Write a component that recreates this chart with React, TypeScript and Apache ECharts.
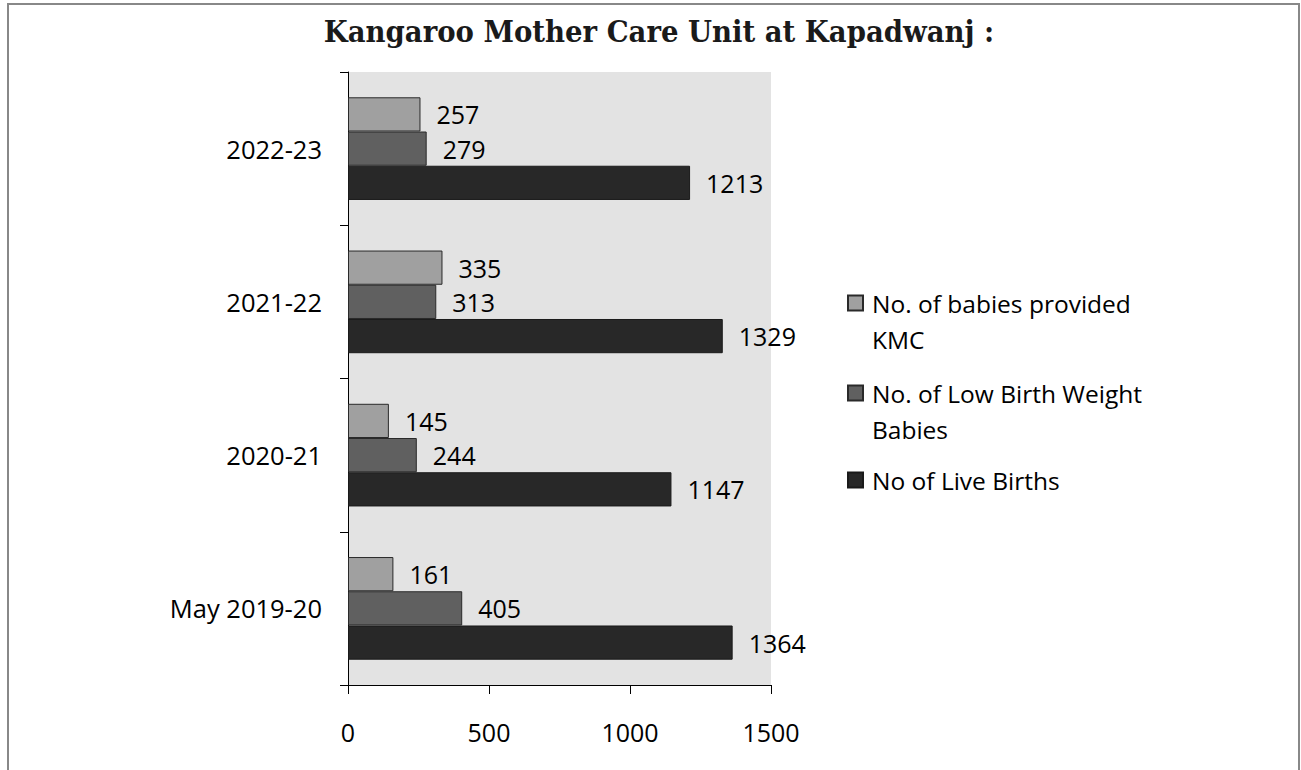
import React, { useEffect, useRef } from "react";
import * as echarts from "echarts";

const titleText = "Kangaroo Mother Care Unit at Kapadwanj :";
const categories = ["May 2019-20", "2020-21", "2021-22", "2022-23"];
const kmcName = "No. of babies provided KMC";
const lbwName = "No. of Low Birth Weight Babies";
const liveName = "No of Live Births";
const kmcValues = [161, 145, 335, 257];
const lbwValues = [405, 244, 313, 279];
const liveValues = [1364, 1147, 1329, 1213];
const xTicks = [0, 500, 1000, 1500];

const legendLabels: Record<string, string> = {
  [kmcName]: "\nNo. of babies provided\nKMC",
  [lbwName]: "\nNo. of Low Birth Weight\nBabies",
  [liveName]: "No of Live Births",
};

const FONT = "'Open Sans', 'Noto Sans', sans-serif";

export default function App() {
  const ref = useRef<HTMLDivElement>(null);
  useEffect(() => {
    if (!ref.current) return;
    const chart = echarts.init(ref.current, undefined, { renderer: "svg" });
    const legendCommon = {
      orient: "vertical",
      left: 847,
      padding: 0,
      itemWidth: 15,
      itemHeight: 15,
      icon: "rect",
      formatter: (n: string) => legendLabels[n],
      textStyle: {
        fontFamily: FONT,
        fontSize: 24.5,
        color: "#000",
        lineHeight: 36,
        padding: [0, 0, 0, 4],
      },
    };
    const barCommon = {
      type: "bar",
      barGap: "0%",
      barCategoryGap: "33%",
      label: {
        show: true,
        position: "right",
        distance: 16,
        fontFamily: FONT,
        fontSize: 25,
        color: "#000",
      },
    };
    chart.setOption({
      animation: false,
      backgroundColor: "#fff",
      title: {
        text: titleText,
        left: 654,
        textAlign: "center",
        top: 10,
        textStyle: {
          fontFamily: "'DejaVu Serif Condensed', 'DejaVu Serif', serif",
          fontWeight: "bold",
          fontSize: 30.6,
          color: "#1a1a1a",
        },
      },
      graphic: [
        {
          type: "rect",
          shape: { x: 8, y: 4, width: 1291, height: 800 },
          style: { fill: "none", stroke: "#888", lineWidth: 2 },
          silent: true,
        },
      ],
      legend: [
        { ...legendCommon, top: 249, data: [kmcName] },
        { ...legendCommon, top: 339, data: [lbwName] },
        { ...legendCommon, top: 462, data: [liveName] },
      ],
      grid: {
        left: 348,
        right: 1301 - 771,
        top: 72,
        bottom: 770 - 685,
        show: true,
        backgroundColor: "#e3e3e3",
        borderWidth: 0,
        containLabel: false,
      },
      xAxis: {
        type: "value",
        min: xTicks[0],
        max: xTicks[xTicks.length - 1],
        interval: 500,
        axisLine: { show: true, lineStyle: { color: "#000", width: 1 } },
        axisTick: { show: true, length: 9, lineStyle: { color: "#000" } },
        splitLine: { show: false },
        axisLabel: {
          margin: 34,
          fontFamily: FONT,
          fontSize: 25,
          color: "#000",
          formatter: (v: number) => String(v),
        },
      },
      yAxis: {
        type: "category",
        data: categories,
        axisLine: { show: true, lineStyle: { color: "#000", width: 1 } },
        axisTick: { show: true, length: 8, lineStyle: { color: "#000" } },
        axisLabel: {
          margin: 26,
          fontFamily: FONT,
          fontSize: 25.5,
          color: "#000",
        },
      },
      series: [
        {
          ...barCommon,
          name: kmcName,
          data: kmcValues,
          itemStyle: { color: "#a0a0a0", borderColor: "#2a2a2a", borderWidth: 1 },
        },
        {
          ...barCommon,
          name: lbwName,
          data: lbwValues,
          itemStyle: { color: "#606060", borderColor: "#2a2a2a", borderWidth: 1 },
        },
        {
          ...barCommon,
          name: liveName,
          data: liveValues,
          itemStyle: { color: "#282828", borderColor: "#1a1a1a", borderWidth: 1 },
        },
      ],
    });
    return () => chart.dispose();
  }, []);
  return (
    <div
      ref={ref}
      style={{ position: "absolute", left: 0, top: 0, width: 1301, height: 770 }}
    />
  );
}
